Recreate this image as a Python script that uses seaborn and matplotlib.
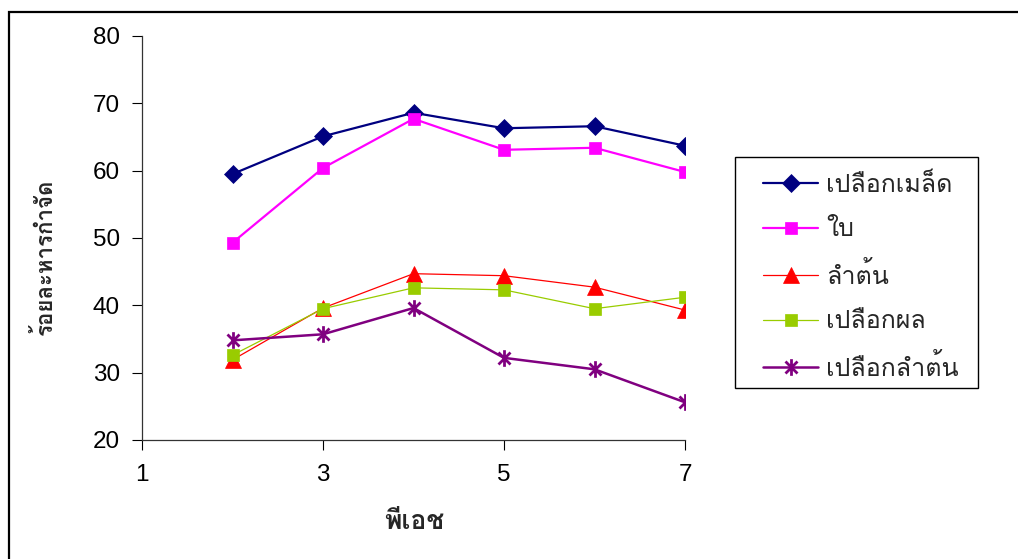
import matplotlib
matplotlib.use("Agg")
import matplotlib.pyplot as plt
from matplotlib import font_manager
from matplotlib.path import Path
from matplotlib.patches import Rectangle
import seaborn as sns
import pandas as pd

# pH levels and removal percentages for each plant part
ph = [2, 3, 4, 5, 6, 7]
seed_coat = [59.5, 65.1, 68.6, 66.3, 66.6, 63.7]
leaf = [49.3, 60.4, 67.7, 63.1, 63.4, 59.8]
stem = [31.9, 39.6, 44.7, 44.4, 42.7, 39.3]
fruit_peel = [32.6, 39.5, 42.6, 42.3, 39.5, 41.2]
stem_bark = [34.8, 35.7, 39.6, 32.2, 30.5, 25.6]

series_names = ["เปลือกเมล็ด", "ใบ", "ลำต้น", "เปลือกผล", "เปลือกลำต้น"]
series_values = [seed_coat, leaf, stem, fruit_peel, stem_bark]
x_ticks = [1, 3, 5, 7]
y_ticks = [20, 30, 40, 50, 60, 70, 80]
x_label = "พีเอช"
y_label = "ร้อยละหารกำจัด"


def find_thai_family():
    try:
        from fontTools.ttLib import TTFont
    except Exception:
        return None
    for entry in font_manager.fontManager.ttflist:
        try:
            tt = TTFont(entry.fname, fontNumber=0, lazy=True)
            cmap = tt.getBestCmap()
            if cmap and 0x0E01 in cmap and 0x0E49 in cmap:
                return entry.name
        except Exception:
            continue
    return None


sns.set_theme(style="white")
thai = find_thai_family()
families = ["Liberation Sans"]
if thai:
    families.append(thai)
families.append("DejaVu Sans")
plt.rcParams["font.family"] = families

df = pd.DataFrame({
    "ph": ph * len(series_names),
    "value": [v for vals in series_values for v in vals],
    "part": [n for n in series_names for _ in ph],
})

# six-armed asterisk marker: vertical bar plus two diagonals
star = Path(
    [(0, -1), (0, 1), (-0.72, -0.72), (0.72, 0.72), (-0.72, 0.72), (0.72, -0.72)],
    [Path.MOVETO, Path.LINETO, Path.MOVETO, Path.LINETO, Path.MOVETO, Path.LINETO],
)

styles = {
    "เปลือกเมล็ด": dict(color="#000080", marker="D", ms=9, lw=1.6),
    "ใบ": dict(color="#FF00FF", marker="s", ms=9, lw=1.6),
    "ลำต้น": dict(color="#FF0000", marker="^", ms=11, lw=0.9),
    "เปลือกผล": dict(color="#99CC00", marker="s", ms=9, lw=0.9),
    "เปลือกลำต้น": dict(color="#800080", marker=star, ms=12, lw=1.8),
}

W, H = 1018, 559
fig = plt.figure(figsize=(W / 100, H / 100), dpi=100)
fig.patch.set_facecolor("white")
ax = fig.add_axes([142 / W, 1 - 440 / H, (685 - 142) / W, 404 / H])

for name in series_names:
    st = styles[name]
    sub = df[df["part"] == name]
    is_star = st["marker"] is star
    sns.lineplot(
        data=sub, x="ph", y="value", ax=ax, label=name,
        color=st["color"], linewidth=st["lw"], marker=st["marker"],
        markersize=st["ms"], markeredgecolor=st["color"],
        markerfacecolor=st["color"],
        markeredgewidth=2.0 if is_star else 0.5,
        legend=False,
    )

ax.set_xlim(1, 7)
ax.set_ylim(20, 80)
ax.set_xticks(x_ticks)
ax.set_yticks(y_ticks)
ax.tick_params(axis="both", which="major", labelsize=17.5, colors="black",
               direction="out", length=7, width=0.8, left=True, bottom=True)
ax.tick_params(axis="x", pad=10)
ax.tick_params(axis="y", pad=9)
for side in ("top", "right"):
    ax.spines[side].set_visible(False)
for side in ("left", "bottom"):
    ax.spines[side].set_color("#333333")
    ax.spines[side].set_linewidth(0.9)
ax.grid(False)
ax.set_facecolor("white")

ax.set_xlabel("")
ax.set_ylabel("")
fig.text(414 / W, 1 - 522 / H, x_label, ha="center", va="center",
         fontsize=19, fontweight="bold")
fig.text(45 / W, 1 - 257 / H, y_label, ha="center", va="center",
         rotation=90, fontsize=16, fontweight="bold")

# legend entries without the built-in frame; the box is drawn separately
handles, labels = ax.get_legend_handles_labels()
leg = fig.legend(
    handles, labels, loc="upper left",
    bbox_to_anchor=(763 / W, 1 - 173 / H),
    frameon=False, fontsize=18,
    handlelength=2.2, handletextpad=0.32, labelspacing=0.82,
    borderpad=0, borderaxespad=0,
)
fig.patches.append(Rectangle((735 / W, 1 - 388 / H), (978 - 735) / W, (388 - 157) / H,
                             transform=fig.transFigure, fill=False,
                             edgecolor="black", linewidth=1.0))

# outer chart frame
fig.patches.append(Rectangle((9 / W, -0.2), 1.2, 0.2 + (H - 12) / H,
                             transform=fig.transFigure, fill=False,
                             edgecolor="black", linewidth=1.6))

fig.savefig("out.png", dpi=100, facecolor="white")
